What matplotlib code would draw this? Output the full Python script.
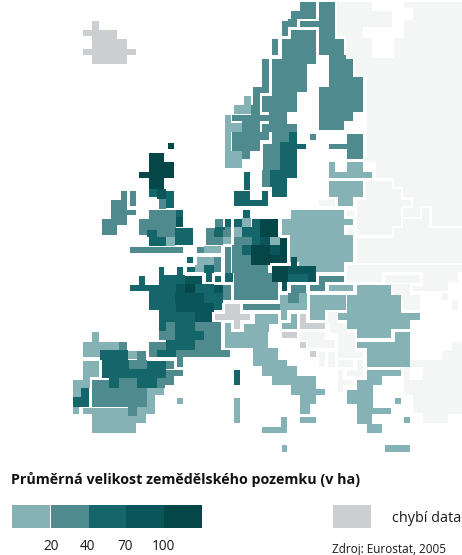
import numpy as np
import matplotlib
matplotlib.use("Agg")
import matplotlib.pyplot as plt
from matplotlib.colors import ListedColormap

# Map classes: blocks of map cells per class as (x0, x1, y0, y1) on the map grid
CLASS_COLORS = ["#ffffff", "#f4f6f6", "#cccfd2", "#84b2b5", "#4f8b8e", "#14666b", "#0a5559", "#054649"]
LEGEND_TICKS = ["20", "40", "70", "100"]
LEGEND_TICK_POS = [51, 87, 125, 163]
LEGEND_LEFT = [12, 51, 89, 126, 164]
LEGEND_RIGHT = [50, 89, 126, 164, 202]
TITLE = "Průměrná velikost zemědělského pozemku (v ha)"
MISSING = "chybí data"
SOURCE = "Zdroj: Eurostat, 2005"

NON_EU = [
    (337, 462, 2, 36), (346, 462, 36, 59), (355, 462, 59, 77), (367, 462, 77, 162),
    (376, 462, 162, 178), (366, 462, 178, 197), (357, 462, 197, 263),
    (347, 354, 211, 216), (347, 354, 228, 235), (347, 462, 265, 283),
    (385, 410, 284, 293), (394, 410, 293, 300), (423, 448, 283, 291), (413, 423, 286, 291),
    (403, 420, 295, 310), (442, 448, 293, 300), (452, 458, 300, 310),
    (452, 462, 342, 351), (442, 462, 351, 360), (404, 462, 360, 395),
    (413, 462, 395, 413), (423, 448, 413, 423), (448, 462, 405, 414),
    (319, 335, 200, 206),
    (328, 337, 312, 323), (330, 347, 323, 333), (338, 355, 333, 352), (338, 363, 352, 358),
    (300, 325, 332, 340), (308, 335, 340, 348), (319, 325, 352, 367), (328, 335, 352, 367),
    (338, 353, 360, 367), (357, 363, 360, 377), (347, 363, 370, 376),
    (338, 343, 370, 392), (343, 353, 380, 385),
]
WHITE_CUTS = [
    (372, 404, 0, 11), (392, 413, 8, 20), (392, 404, 20, 28), (363, 404, 27, 38), (372, 394, 38, 58),
    (366, 394, 178, 181), (392, 394, 178, 188), (392, 403, 187, 189), (401, 403, 187, 198),
    (401, 413, 197, 200), (411, 413, 197, 208), (401, 413, 206, 208), (401, 403, 207, 228),
    (403, 422, 217, 219), (420, 422, 207, 219), (420, 432, 206, 208), (429, 432, 207, 228),
    (429, 462, 226, 228), (392, 403, 226, 228), (392, 394, 226, 238), (345, 394, 235, 238),
    (363, 366, 178, 198), (355, 366, 197, 200), (354, 357, 198, 263), (345, 357, 263, 265),
    (344, 347, 263, 283), (340, 385, 282, 284), (382, 385, 273, 283), (382, 423, 272, 275),
    (420, 423, 273, 285), (412, 423, 283, 286), (410, 413, 283, 293), (412, 442, 291, 293),
    (420, 442, 293, 300), (448, 462, 282, 295), (458, 462, 272, 283),
    (410, 423, 367, 380),
]
CLASS_A = [
    (225, 231, 115, 168), (231, 242, 123, 132), (231, 242, 151, 168),
    (244, 251, 96, 105), (234, 251, 105, 114),
    (329, 335, 162, 172), (347, 363, 162, 172), (329, 372, 172, 178),
    (329, 363, 181, 197), (338, 353, 197, 206),
    (291, 344, 210, 219), (282, 353, 219, 225), (282, 344, 225, 235), (290, 353, 235, 262), (299, 344, 262, 272),
    (242, 251, 218, 227), (223, 231, 237, 244), (234, 242, 227, 237),
    (204, 221, 246, 253), (197, 214, 257, 265), (195, 204, 265, 272), (270, 280, 237, 245),
    (280, 288, 295, 310), (288, 307, 303, 310), (299, 307, 293, 303),
    (329, 353, 285, 291), (310, 346, 295, 310), (310, 325, 310, 320),
    (357, 391, 285, 295), (347, 401, 295, 313), (338, 420, 313, 320),
    (347, 410, 320, 329), (357, 391, 329, 338),
    (395, 410, 332, 342), (357, 410, 342, 348), (367, 410, 348, 367),
    (367, 401, 370, 376), (367, 382, 376, 385), (357, 373, 380, 390), (347, 373, 390, 404),
    (357, 373, 404, 408), (357, 391, 408, 414), (357, 372, 414, 424), (367, 382, 424, 433),
    (395, 401, 398, 404), (404, 410, 417, 423), (385, 410, 445, 452),
    (255, 278, 314, 324), (244, 269, 324, 332), (225, 231, 323, 332), (225, 268, 332, 348), (253, 278, 348, 360),
    (253, 287, 360, 366), (262, 297, 366, 376), (272, 316, 376, 385), (291, 316, 385, 389),
    (291, 325, 389, 395), (300, 316, 395, 404), (300, 310, 404, 414), (300, 316, 417, 423),
    (234, 240, 398, 423), (262, 287, 427, 433), (281, 287, 417, 427), (282, 287, 445, 452),
    (281, 287, 310, 320), (291, 297, 314, 329), (282, 297, 323, 329),
    (92, 99, 332, 342), (83, 119, 342, 350), (83, 100, 350, 357), (128, 137, 351, 359),
    (83, 99, 361, 377), (83, 90, 377, 380), (73, 90, 380, 388), (73, 81, 388, 397),
    (73, 79, 407, 414), (147, 164, 388, 395), (147, 155, 395, 407),
    (83, 128, 408, 414), (92, 128, 414, 416), (137, 155, 407, 414), (137, 146, 414, 416),
    (92, 146, 416, 423), (92, 136, 423, 433), (177, 183, 398, 404),
    (166, 175, 237, 246),
]
CLASS_B = [
    (300, 316, 2, 11), (291, 316, 11, 19), (288, 297, 19, 27), (282, 288, 21, 36),
    (272, 278, 39, 55), (262, 269, 59, 87), (253, 269, 87, 93), (253, 260, 93, 105),
    (251, 260, 105, 115), (232, 269, 115, 121), (242, 260, 121, 132), (232, 269, 132, 140),
    (232, 260, 140, 151), (242, 250, 151, 159),
    (319, 335, 2, 39), (319, 344, 39, 55), (329, 346, 55, 59), (329, 353, 59, 77),
    (329, 363, 77, 87), (319, 363, 87, 112), (319, 353, 112, 121), (319, 344, 121, 130),
    (300, 319, 21, 27), (291, 316, 30, 39), (282, 316, 39, 59), (272, 316, 59, 64),
    (272, 307, 64, 92), (272, 297, 92, 96), (262, 297, 96, 112), (269, 287, 112, 124),
    (262, 297, 124, 132), (272, 289, 132, 142), (263, 280, 144, 170), (272, 280, 142, 144),
    (262, 270, 170, 187), (310, 316, 134, 140),
    (347, 363, 134, 159), (329, 347, 144, 149),
    (121, 127, 191, 200), (111, 127, 200, 210), (111, 136, 210, 215), (111, 127, 215, 219),
    (102, 127, 219, 225), (102, 117, 225, 235), (130, 136, 191, 206),
    (159, 166, 199, 209), (149, 176, 210, 230), (139, 176, 219, 230), (139, 147, 230, 235),
    (157, 175, 230, 237), (130, 183, 247, 253),
    (215, 223, 219, 228), (206, 215, 228, 230), (206, 214, 230, 237), (223, 231, 227, 237),
    (206, 223, 237, 245), (197, 204, 247, 253), (214, 221, 257, 272), (225, 231, 247, 273),
    (223, 231, 285, 300),
    (234, 252, 237, 245), (232, 242, 245, 255), (232, 251, 255, 273), (234, 251, 273, 300),
    (251, 268, 265, 273), (251, 278, 273, 300),
    (243, 280, 304, 310),
    (319, 344, 276, 282), (310, 325, 285, 291), (319, 325, 282, 285),
    (291, 306, 285, 293), (288, 299, 293, 303),
    (166, 175, 322, 331), (195, 221, 322, 331), (159, 175, 331, 340), (204, 221, 331, 340),
    (149, 166, 342, 350), (195, 221, 340, 350), (149, 157, 350, 357), (176, 230, 350, 357),
    (177, 183, 357, 367), (119, 127, 342, 350), (137, 146, 351, 360), (129, 147, 360, 369),
    (166, 174, 361, 369), (166, 183, 370, 376), (166, 174, 376, 378),
    (92, 109, 380, 388), (119, 137, 378, 388), (157, 174, 378, 385), (157, 165, 385, 388),
    (92, 147, 388, 407), (128, 137, 407, 416),
]
CLASS_C = [
    (289, 297, 132, 142), (280, 297, 142, 170), (297, 306, 144, 149), (270, 287, 170, 187),
    (287, 297, 170, 178), (272, 287, 187, 197),
    (244, 250, 172, 190), (234, 250, 191, 206), (250, 268, 200, 206), (262, 268, 191, 200),
    (243, 250, 210, 218), (234, 242, 219, 227), (252, 260, 219, 227),
    (242, 260, 227, 237), (252, 260, 237, 245), (242, 251, 245, 255), (225, 233, 273, 282),
    (149, 157, 189, 197), (166, 174, 191, 208), (176, 183, 210, 217), (147, 157, 230, 237),
    (175, 193, 228, 245), (149, 166, 237, 246), (225, 231, 219, 227), (214, 223, 230, 237),
    (215, 225, 227, 230),
    (187, 193, 257, 263), (187, 195, 267, 272), (204, 214, 265, 273), (206, 212, 273, 282),
    (215, 221, 276, 282), (159, 164, 267, 275), (177, 183, 267, 275), (159, 185, 275, 285),
    (139, 145, 276, 285), (130, 176, 285, 291), (149, 176, 291, 310),
    (195, 214, 284, 293), (204, 223, 293, 303), (214, 222, 303, 310),
    (159, 195, 310, 322), (159, 166, 322, 331), (175, 195, 322, 331), (175, 204, 331, 340),
    (166, 195, 340, 350), (157, 176, 350, 357),
    (100, 128, 350, 360), (102, 129, 360, 370), (147, 166, 361, 369), (102, 166, 369, 378),
    (109, 119, 378, 388), (137, 157, 378, 388), (81, 89, 388, 397), (73, 89, 397, 407),
    (288, 308, 274, 282), (234, 240, 370, 385),
]
CLASS_D = [
    (157, 166, 189, 199), (176, 183, 217, 227), (260, 270, 237, 245),
    (270, 280, 245, 255), (214, 223, 285, 293), (176, 185, 284, 293), (185, 202, 276, 284),
    (175, 204, 293, 303), (176, 214, 303, 312), (195, 212, 312, 322),
    (288, 316, 266, 274), (308, 316, 274, 282), (291, 297, 257, 266), (282, 287, 282, 291),
]
CLASS_E = [
    (149, 164, 153, 162), (149, 174, 162, 172), (139, 174, 172, 178), (149, 164, 178, 189),
    (168, 174, 143, 149), (260, 278, 219, 237), (280, 287, 238, 245),
    (251, 270, 245, 265), (280, 287, 245, 263), (270, 280, 255, 263),
    (185, 195, 284, 293), (272, 288, 266, 282),
]
MISSING_CELLS = [
    (92, 99, 21, 30), (83, 117, 30, 36), (92, 117, 36, 39), (92, 127, 39, 49),
    (83, 136, 49, 55), (92, 127, 55, 64),
    (225, 240, 304, 314), (215, 250, 314, 320), (234, 240, 320, 329),
    (300, 306, 314, 329), (300, 325, 323, 329), (282, 297, 332, 338),
    (300, 306, 342, 348), (310, 316, 351, 357),
]
MAP_LAYERS = [(1, NON_EU), (0, WHITE_CUTS), (3, CLASS_A), (4, CLASS_B), (5, CLASS_C),
              (6, CLASS_D), (7, CLASS_E), (2, MISSING_CELLS)]

plt.rcParams["font.family"] = ["Open Sans", "DejaVu Sans"]
fig = plt.figure(figsize=(4.62, 5.55), dpi=100)
ax = fig.add_axes([0, 0, 1, 1])

grid = np.zeros((460, 462), dtype=int)
for code, cells in MAP_LAYERS:
    for x0, x1, y0, y1 in cells:
        grid[y0:y1, x0:x1] = code

ax.imshow(grid, cmap=ListedColormap(CLASS_COLORS), vmin=0, vmax=len(CLASS_COLORS) - 1,
          extent=(0, 462, 460, 0), interpolation="nearest", aspect="auto")
ax.set_xlim(0, 462)
ax.set_ylim(555, 0)
ax.axis("off")

for i, (l, r) in enumerate(zip(LEGEND_LEFT, LEGEND_RIGHT)):
    ax.barh(516.5, r - l, left=l, height=23, color=CLASS_COLORS[3 + i], linewidth=0)
ax.barh(516.5, 38, left=333, height=23, color=CLASS_COLORS[2], linewidth=0)
for pos, lab in zip(LEGEND_TICK_POS, LEGEND_TICKS):
    ax.text(pos, 546.5, lab, ha="center", va="center", fontsize=9.8, color="#1a1a1a")
ax.text(11, 479.5, TITLE, ha="left", va="center", fontsize=10.3, fontweight="bold", color="#111111")
ax.text(461, 518, MISSING, ha="right", va="center", fontsize=10.4, color="#1a1a1a")
ax.text(332, 549, SOURCE, ha="left", va="center", fontsize=8.45, color="#1a1a1a")
fig.savefig("out.png", dpi=100)
